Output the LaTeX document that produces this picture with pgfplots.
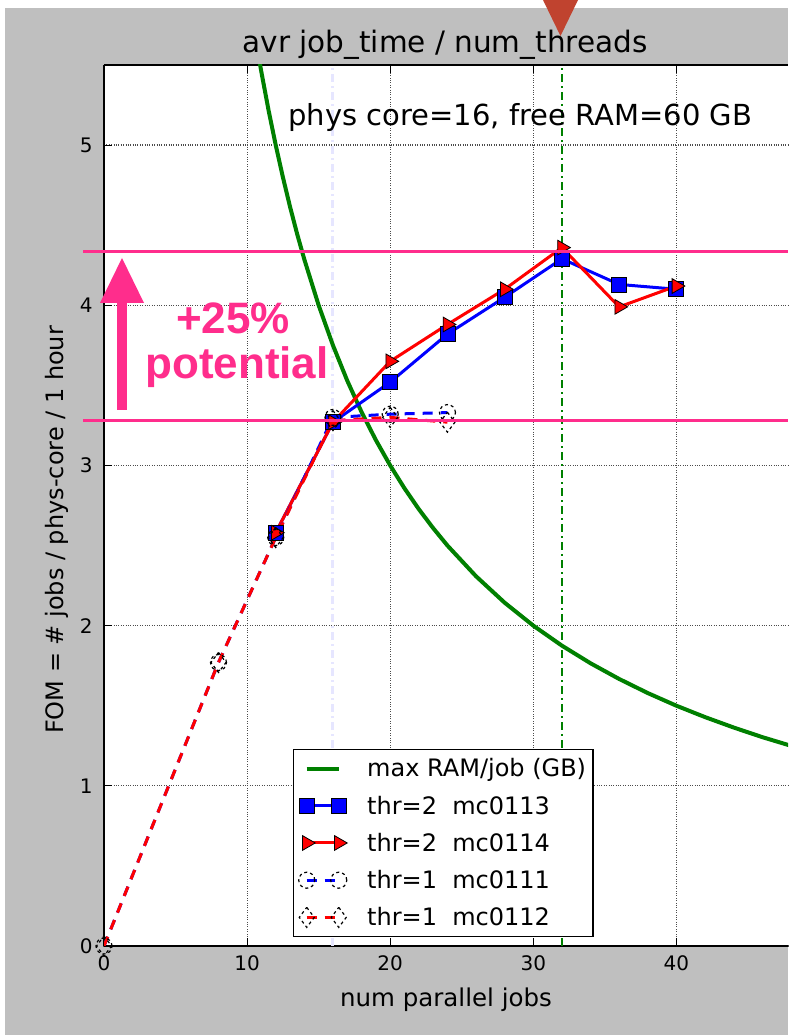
\documentclass[border=0pt]{standalone}
\usepackage{pgfplots}
\pgfplotsset{compat=1.18}
\usepackage{fontspec}
\setmainfont{DejaVu Sans}
\newfontfamily\pinkfont{Liberation Sans}
\definecolor{bggray}{HTML}{BFBFBF}
\definecolor{pinkc}{HTML}{FF2D8C}
\definecolor{tric}{HTML}{C0432F}
\definecolor{mgreen}{HTML}{008000}
\definecolor{lav}{HTML}{E6E6FF}
\begin{document}
\begin{tikzpicture}[x=1bp,y=1bp]
\fill[white] (0,0) rectangle (788,1035);
\fill[bggray] (5,0) rectangle (788,1027);
\begin{axis}[
  at={(104bp,89bp)}, anchor=south west,
  scale only axis, width=684bp, height=881bp,
  xmin=0, xmax=47.8, ymin=0, ymax=5.5,
  axis x line*=box, axis y line*=left,
  axis line style={line width=2bp, black},
  axis background/.style={fill=white},
  xtick={0,10,20,30,40}, ytick={0,1,2,3,4,5},
  tick align=inside, major tick length=8bp,
  every tick/.style={black, line width=1bp},
  grid=major, major grid style={black!70, dotted, line width=1.2bp},
  /pgf/number format/assume math mode=true,
  ticklabel style={font=\fontsize{20bp}{24bp}\selectfont},
  xticklabel style={yshift=-6bp},
  yticklabel style={xshift=-8bp},
  legend cell align=left,
  legend style={at={(0.2763,0.0102)}, anchor=south west, draw=black, line width=1.5bp,
    fill=white, font=\fontsize{24bp}{28bp}\selectfont, row sep=13.5bp,
    inner xsep=5bp, inner ysep=7bp,
    /tikz/every odd column/.append style={column sep=18bp}},
  legend image code/.code={\draw[#1] plot coordinates {(8bp,0bp) (40bp,0bp)};},
]
\addplot[lav, line width=3bp, dash pattern=on 8bp off 4bp on 2bp off 4bp, forget plot] coordinates {(16,0)(16,5.5)};
\addplot[mgreen, line width=2.5bp, dash pattern=on 8bp off 4bp on 2bp off 4bp, forget plot] coordinates {(32,0)(32,5.5)};
\addplot[mgreen, line width=4bp, no marks] coordinates {
(10.8,5.556)(11,5.455)(11.5,5.217)(12,5)(12.5,4.8)(13,4.615)(13.5,4.444)(14,4.286)(15,4)(16,3.75)(17,3.529)(18,3.333)(19,3.158)(20,3)(21,2.857)(22,2.727)(23,2.609)(24,2.5)(26,2.308)(28,2.143)(30,2)(32,1.875)(34,1.765)(36,1.667)(38,1.579)(40,1.5)(42,1.429)(44,1.364)(46,1.304)(48,1.25)};
\addlegendentry{max RAM/job (GB)}
\addplot[blue, line width=3bp, mark=square*, mark size=7.5bp, mark options={fill=blue, draw=black, line width=0.8bp, solid}] coordinates {
(12,2.58)(16,3.27)(20,3.52)(24,3.82)(28,4.05)(32,4.29)(36,4.13)(40,4.10)};
\addlegendentry{thr=2\ \ mc0113}
\addplot[red, line width=3bp, mark=triangle*, mark size=8.5bp, mark options={fill=red, draw=black, line width=0.8bp, rotate=-90, solid}] coordinates {
(12,2.58)(16,3.27)(20,3.65)(24,3.88)(28,4.10)(32,4.36)(36,3.99)(40,4.12)};
\addlegendentry{thr=2\ \ mc0114}
\addplot[blue, line width=3bp, dash pattern=on 10bp off 8bp, mark=o, mark size=8bp, mark options={draw=black, line width=1.2bp, dash pattern=on 3bp off 3bp, fill=none}] coordinates {
(0,0)(8,1.77)(12,2.55)(16,3.30)(20,3.32)(24,3.33)};
\addlegendentry{thr=1\ \ mc0111}
\addplot[red, line width=3bp, dash pattern=on 10bp off 8bp, mark=diamond, mark size=10bp, mark options={draw=black, line width=1.2bp, dash pattern=on 3bp off 3bp, fill=none}] coordinates {
(0,0)(8,1.77)(12,2.55)(16,3.28)(20,3.30)(24,3.27)};
\addlegendentry{thr=1\ \ mc0112}
\end{axis}
% title, labels
\node[anchor=base, font=\fontsize{29.5bp}{34bp}\selectfont] at (445,982) {avr job\_time / num\_threads};
\node[font=\fontsize{24.5bp}{28bp}\selectfont] at (446,35) {num parallel jobs};
\node[rotate=90, font=\fontsize{24bp}{28bp}\selectfont] at (57,505) {FOM = \# jobs / phys-core / 1 hour};
\node[anchor=west, font=\fontsize{29bp}{34bp}\selectfont] at (285,917) {phys core=16, free RAM=60 GB};
% pink annotation
\draw[pinkc, line width=3bp] (83,783.3) -- (788,783.3);
\draw[pinkc, line width=3bp] (83,614.3) -- (788,614.3);
\fill[pinkc] (117,625) rectangle (127,735);
\fill[pinkc] (100,732) -- (144,732) -- (122,777) -- cycle;
\node[pinkc, font=\pinkfont\bfseries\fontsize{44bp}{50bp}\selectfont] at (233,717) {+25\%};
\node[pinkc, font=\pinkfont\bfseries\fontsize{44bp}{50bp}\selectfont] at (237,668) {potential};
% triangle
\fill[tric] (543,1035) -- (578,1035) -- (560.5,999) -- cycle;
\end{tikzpicture}
\end{document}
